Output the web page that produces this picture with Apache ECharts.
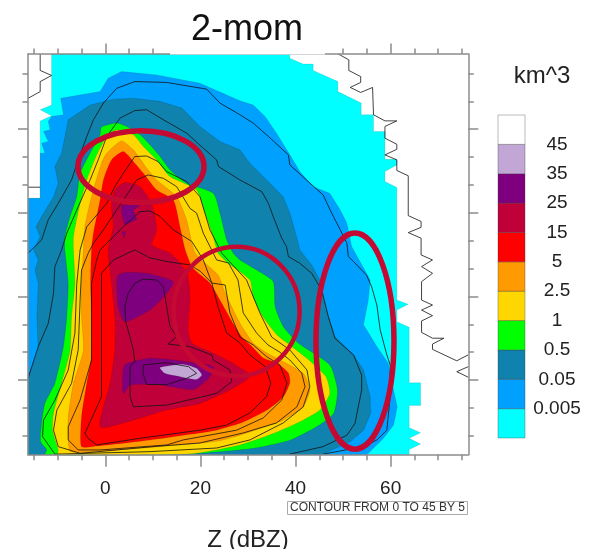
<!DOCTYPE html>
<html>
<head>
<meta charset="utf-8">
<style>
    html, body { margin: 0; padding: 0; background: #fff; }
    #chart { width: 600px; height: 549px; }
</style>
<script src="https://cdn.jsdelivr.net/npm/echarts@6/dist/echarts.min.js"></script>
</head>
<body>
<div id="chart"></div>
<script>
// filled bands, [Z in dBZ, height in km]
const bandCyan = [[-11.3,14.7],[-11.3,12.87],[-13.7,12.7],[-11.3,12.48],[-13.7,12.3],[-13.7,9.52],[-16.26,9.52],[-16.26,0.32],[63.9,0.32],[63.9,0.51],[66.3,0.7],[63.9,0.91],[66.3,1.11],[63.9,1.29],[63.9,2.09],[66.3,2.09],[66.3,2.9],[63.9,2.9],[63.9,4.89],[61.3,5.09],[61.3,5.51],[63.7,5.72],[61.3,5.87],[61.3,9.91],[58.8,10.12],[58.8,10.48],[61.3,10.72],[61.3,10.92],[58.8,10.92],[58.8,11.92],[56.4,11.92],[56.4,12.52],[53.8,12.52],[53.8,12.94],[48.9,13.35],[48.9,13.71],[43.7,14.11],[43.7,14.34],[41.6,14.34],[38.8,14.55],[38.8,14.7]];
const bandBlue = [[-16.26,9.52],[-13.7,9.52],[-13.7,11.14],[-12.7,11.14],[-13.4,11.5],[-12,11.56],[-13,11.92],[-11.6,11.98],[-12,12.28],[-11.3,12.46],[-8.8,12.52],[-9.4,13.11],[-1.1,13.35],[0.6,13.83],[3.4,14.07],[10.8,13.95],[19.9,13.65],[28.3,13.02],[31.1,12.87],[33.6,12.46],[36,11.86],[38.8,11.08],[40.9,10.48],[43.7,9.94],[47.2,9.7],[49.4,9.1],[50.8,8.63],[51.8,7.79],[55.7,6.59],[55.3,5.87],[54.3,4.98],[57.1,4.2],[59.5,3.6],[60.6,2.64],[61.4,2.04],[60.6,1.38],[58.5,0.91],[55,0.32],[-16.26,0.32]];
const bandTeal = [[-16.26,0.32],[-16.26,3.06],[-15.1,3.6],[-14.1,4.08],[-14.4,5.27],[-14.1,6.47],[-14.8,6.95],[-14.1,7.31],[-15.1,7.67],[-13.7,8.15],[-14.6,8.5],[-13.4,8.87],[-10.9,9.58],[-9.9,10.06],[-10.6,10.66],[-9.2,11.14],[-7.8,12.34],[-3.2,12.87],[1.7,13.08],[5.9,13.11],[11.5,13],[16.1,12.76],[19.9,12.1],[24.1,11.56],[28.3,11.26],[30.4,10.78],[32.5,10.42],[34.6,10.06],[37.4,9.58],[38.8,8.99],[40.2,8.15],[40.9,7.67],[43.4,7.13],[45.1,6.59],[46.5,5.51],[48.3,4.56],[52.2,3.9],[54.3,3.36],[55.7,2.4],[55.8,1.8],[54.3,1.2],[51.5,0.79],[45.5,0.32]];
const bandGreen = [[-12.7,0.32],[-12.3,0.49],[-13.6,0.79],[-13.4,1.44],[-12.7,2.16],[-10.6,2.88],[-8.8,4.2],[-8.1,5.27],[-7.8,6.47],[-8.5,7.67],[-8.5,8.15],[-7.4,8.87],[-6,9.58],[-5.3,10.42],[-3.2,11.14],[-1.1,11.8],[-0.8,12.07],[2.4,12.22],[4.8,12.07],[7.3,11.8],[9.7,11.38],[11.5,11.02],[13.6,10.54],[17.1,10.06],[22.7,9.7],[24.1,8.99],[25.5,8.03],[26.9,7.55],[28.3,7.31],[31.8,6.95],[35.3,6.53],[35.7,5.63],[37.4,4.92],[40.6,4.32],[47.2,3.54],[48.8,2.64],[48,1.8],[44.4,1.32],[38.8,0.84],[31.1,0.55],[19.9,0.37],[12.9,0.32]];
const bandGold = [[-9.9,0.32],[-9.9,0.49],[-11.1,1.2],[-10.9,1.8],[-9.2,2.88],[-7.4,4.08],[-7.1,5.27],[-6.4,6.47],[-6.7,7.67],[-6.7,8.15],[-5.3,9.34],[-3.9,10.18],[-1.8,11.08],[0.3,11.74],[2.4,11.98],[5.9,11.8],[8,11.38],[10.8,10.9],[13.6,10.3],[19.2,9.82],[21,8.99],[22.7,8.15],[23.7,7.56],[25.8,7.2],[30.4,6.59],[31.1,5.98],[33.2,5.26],[36.1,4.62],[38.8,4.26],[42.8,3.72],[46.4,3.12],[47.2,2.52],[45.1,1.92],[41.6,1.56],[35.3,1.08],[28.3,0.67],[17.8,0.35]];
const bandOrange = [[-7.3,0.43],[-7.8,0.96],[-7.8,1.68],[-6.7,2.88],[-4.6,4.08],[-5,5.27],[-5,6.47],[-4.6,7.67],[-4.3,8.5],[-2.9,9.58],[-0.8,10.78],[0.3,11.14],[3.4,11.58],[5.9,11.26],[8.7,10.6],[10.8,10.18],[15,9.58],[17.1,8.75],[18.9,7.56],[23.7,6.77],[25.2,6.12],[28.3,5.05],[31.1,4.33],[34,3.97],[41.6,3.24],[43,2.64],[41.6,2.04],[37.4,1.56],[32.5,1.26],[28.3,1.02],[23.4,0.8],[9.4,0.58],[-1.1,0.45]];
const bandRed = [[-5,0.61],[-5,1.68],[-3.9,2.88],[-2.9,3.84],[-2.9,5.27],[-3.1,6.47],[-2.9,7.67],[-2.5,8.27],[-1.1,9.46],[-0.4,10.18],[1.3,10.9],[3.8,11.2],[6.2,10.78],[8,10.42],[10.8,9.82],[14.3,9.46],[15.7,8.5],[16.8,7.67],[18.4,7.02],[22,6.48],[24.1,5.87],[26.2,5.23],[28.7,4.54],[30.9,4.19],[33.2,3.79],[36.1,3.61],[38.5,3.25],[38.8,2.89],[37.4,2.39],[34,1.92],[29,1.49],[23.4,1.2],[16.4,1.02],[9.4,0.85],[-1.8,0.63]];
const bandCrimson = [[-1.1,1.32],[1,2.88],[2,4.08],[2,5.27],[1.3,6.47],[0.6,7.67],[1.7,8.5],[1.3,9.22],[2,9.82],[4.1,10.09],[7.3,9.94],[9.7,9.34],[10.8,8.39],[9.8,7.85],[13.6,7.56],[15.7,7.2],[17.2,6.84],[17.8,5.98],[17.4,4.8],[18.2,4.33],[22,4.02],[26.2,3.66],[30.1,3.24],[30.1,3.06],[26.2,2.64],[19.9,2.16],[12.9,1.92],[5.9,1.56]];
const bandPurpleTop = [[3.4,9.28],[7.3,9.28],[5.9,9.1],[6.6,8.75],[4.1,8.57],[3.4,8.99]];
const bandPurpleSpeck = [[3.6,8.33],[4.3,8.33],[3.9,8.09]];
const bandPurpleMid = [[2.5,6.71],[3.8,6.85],[8.7,6.83],[14.3,6.53],[12.9,6.11],[9.4,5.51],[4.1,5.09],[2.7,5.63]];
const bandPurpleLow = [[4.1,3.54],[9.4,3.78],[17.1,3.66],[22.7,3.48],[21.7,3.06],[18.5,2.66],[11.5,2.82],[5.2,2.82],[3.8,2.5],[3.6,2.88]];
const bandLilac = [[11.5,3.45],[16.4,3.57],[19.2,3.42],[20.3,3.18],[19.2,3.02],[15.7,3.12],[12.5,3.24]];

// black contour lines, 0 to 45 by 5
const lineStairRight = [[49,14.7],[51.2,14.49],[51.2,14.11],[53.7,13.89],[53.7,13.68],[51.5,13.5],[53.7,13.32],[56.2,13.5],[56.4,12.52],[58.8,12.3],[61.3,12.3],[58.8,12.1],[58.8,11.68],[61.3,11.46],[61.3,11.28],[58.8,11.08],[61.3,10.9],[61.3,10.52],[63.7,10.33],[63.7,8.9],[66.4,8.69],[66.4,8.48],[63.7,8.29],[66.4,8.09],[66.4,7.49],[68.8,7.31],[66.5,7.07],[68.8,6.83],[66.5,6.53],[66.5,5.87],[68.8,5.69],[66.5,5.51],[68.8,5.31],[66.5,5.12],[66.5,4.71],[68.8,4.5],[71.2,4.5],[68.8,4.29],[68.8,4.1],[73.9,3.69],[76.3,3.9]];
const lineStairRightLow = [[76.33,3.48],[73.9,3.3],[76.33,3.1]];
const lineStairLeft = [[-13.7,14.7],[-13.7,14.11],[-11.3,13.93],[-13.7,13.71],[-13.7,13.35],[-16.26,13.11]];
const lineStairLeftLow = [[-16.26,9.92],[-13.7,9.92]];
const lineA = [[-16.26,7.55],[-13.4,8.03],[-12,8.75],[-9.9,9.34],[-7.1,10.18],[-5.7,10.9],[-3.9,11.74],[-2.5,12.34],[-0.4,12.94],[2.4,13.47],[6.2,13.71],[12.9,13.68],[21.3,13.44],[24.1,12.94],[28.3,12.52],[31.1,12.22],[34.3,11.74],[38.5,11.08],[38.8,10.72],[42.3,10.18],[45.8,9.64],[47.6,8.99],[49.4,8.39],[50.8,7.91],[51.1,7.43],[52.2,7.25],[54.9,6.77],[56,6.35],[57.1,5.69],[57.8,4.8],[59.2,3.9],[59.9,3.54],[59.9,2.4],[59.2,1.2],[57.1,0.85],[54.3,0.61],[45.8,0.34]];
const lineB = [[-16.26,3.06],[-14.1,4.2],[-12,5.03],[-10.9,6.11],[-10.6,7.07],[-9.2,7.67],[-8.1,8.27],[-5.7,9.22],[-3.2,10.18],[-1.5,10.9],[0.3,11.74],[3.1,12.4],[6.2,12.67],[8.7,12.7],[12.2,12.34],[17.1,11.86],[20.6,11.32],[23.4,10.9],[23.8,10.66],[28.3,10.18],[32.9,9.76],[34.3,9.34],[35.3,8.87],[37.1,8.09],[38.1,7.79],[38.5,7.43],[40.9,7.19],[43.4,6.83],[45.5,6.23],[46.9,5.27],[48.3,4.49],[52.2,3.9],[53.9,3.18],[53.9,2.64],[52.5,1.44],[50.8,1.02],[45.8,0.61],[38.8,0.34]];
const lineC = [[-10.6,0.34],[-13.2,0.97],[-13,1.56],[-10.6,2.28],[-7.8,3.36],[-6.4,4.68],[-6,6.47],[-5.3,7.67],[-3.9,8.5],[0.3,9.34],[2,9.94],[3.8,10.42],[6.2,11.02],[8.7,11.04],[11.1,10.84],[12.9,10.48],[17.1,10.12],[19.9,9.58],[22,8.39],[24.5,7.55],[29.7,6.59],[30.8,6.12],[32.5,5.41],[35,4.54],[38.8,4.08],[42.4,3.36],[43,2.76],[41.6,2.03],[37.4,1.46],[30.4,0.85],[23.4,0.56],[9.4,0.43],[-10.6,0.34]];
const lineD = [[-5.3,0.37],[-9.9,0.61],[-10.9,1.2],[-10.2,1.92],[-7.1,2.88],[-5.7,4.08],[-5.3,5.87],[-5,6.95],[-3.6,7.55],[-2.5,7.91],[-0.4,8.39],[2.4,9.1],[4.5,9.64],[6.6,10.18],[9,10.36],[12.2,10.24],[15,9.94],[17.8,9.16],[19.2,8.99],[20.6,8.27],[23.4,7.31],[25.9,7.2],[27.9,6.59],[29,5.41],[31.8,4.69],[34.2,4.26],[36.7,4],[38.8,3.72],[41.3,3.25],[42,2.76],[40.3,2.04],[36,1.46],[29,1.1],[19.9,0.74],[9.4,0.6],[-5.3,0.37]];
const lineE = [[-5.7,0.49],[-7.8,0.85],[-7.8,1.32],[-5.3,2.28],[-2.9,3.72],[-2.9,6.47],[-1.8,7.31],[-1.1,7.67],[3.8,8.5],[7.3,9.04],[9.4,9.07],[11.5,8.87],[14.3,8.39],[18.2,7.97],[20.6,7.31],[22.4,6.48],[25.2,6.41],[26.2,5.41],[28.3,4.54],[31.1,4.26],[33.9,3.84],[36.7,3.54],[38.2,2.89],[37.1,2.28],[33.2,1.64],[27.6,1.2],[16.4,0.85],[12.9,0.67],[-1,0.49],[-5.7,0.49]];
const lineF = [[6.2,7.67],[1.7,7.31],[-0.8,6.83],[-0.8,4.08],[-0.8,2.4],[-4.3,1.08],[-3.6,0.91],[-1.8,0.67],[7.3,0.91],[19.9,1.2],[25.5,1.38],[30.4,1.82],[33.9,2.4],[34.8,2.89],[33.6,3.48],[30.4,3.9],[28.3,4.33],[25.5,4.69],[23.7,5.63],[22.4,6.48],[20,6.9],[17.8,7.13],[13,7.25],[9.4,7.38],[6.2,7.67]];
const lineG = [[4.1,5.63],[4.3,5.09],[5.9,4.08],[6.2,3.66],[5.2,3.48],[5.2,2.4],[5.9,2.04],[12.9,2.1],[23.4,2.52],[26.6,2.94],[26.2,3.36],[22.7,3.72],[22.4,3.9],[17.8,4.2],[13.2,4.29],[15,4.56],[13.6,4.92],[12.2,6.35],[10.8,6.59],[8,6.62],[6.2,6.47],[4.8,6.11],[4.1,5.63]];
const lineH = [[8,3.54],[12.9,3.62],[17.5,3.48],[19.2,3.24],[17.1,3.06],[12.9,2.84],[8.7,2.84],[7.9,3.24],[8,3.54]];

// red annotation rings: centre Z, centre height, half width in dBZ, half height in km
const ringValues = [[7.5,10.66,13.25,1.29],[27.6,5.46,13.25,2.32],[52.5,4.4,8.2,3.88]];

const xMajorTicks = [0, 20, 40, 60];
const xMinorTicks = [-15, -10, -5, 5, 10, 15, 25, 30, 35, 45, 50, 55, 65, 70, 75];
const yMajorTicks = [3, 6, 9, 12];
const yMinorTicks = [1, 2, 4, 5, 7, 8, 10, 11, 13, 14];

const legendColors = ['#00ffff', '#00a0ff', '#0f82ad', '#00ff00', '#ffd700', '#ff9a00', '#ff0000', '#c00038', '#7f007f', '#c2a6d6', '#ffffff'];
const legendLabels = ['0.005', '0.05', '0.5', '1', '2.5', '5', '15', '25', '35', '45'];

const bands = [
    [bandCyan, legendColors[0], 0],
    [bandBlue, legendColors[1], 0],
    [bandTeal, legendColors[2], 0],
    [bandGreen, legendColors[3], 0.2],
    [bandGold, legendColors[4], 0.2],
    [bandOrange, legendColors[5], 0.2],
    [bandRed, legendColors[6], 0.2],
    [bandCrimson, legendColors[7], 0.2],
    [bandPurpleTop, legendColors[8], 0],
    [bandPurpleSpeck, legendColors[8], 0],
    [bandPurpleMid, legendColors[8], 0.2],
    [bandPurpleLow, legendColors[8], 0.2],
    [bandLilac, legendColors[9], 0.2],
];
const contourLines = [lineStairRight, lineStairRightLow, lineStairLeft, lineStairLeftLow, lineA, lineB, lineC, lineD, lineE, lineF, lineG, lineH];

const FONT = '"Liberation Sans", Arial, sans-serif';
const X_MIN = -16.26, X_MAX = 76.33, Y_MIN = 0.32, Y_MAX = 14.7;
const TICK_COLOR = '#8c8c8c';

function tickAxis(extra, position, values, length, labels, showLine) {
    return Object.assign({
        type: 'value',
        position: position,
        z: 3,
        splitLine: {show: false},
        axisLine: {show: !!showLine, onZero: false, lineStyle: {color: TICK_COLOR, width: 1.5}},
        axisTick: {show: true, customValues: values, length: length, lineStyle: {color: TICK_COLOR, width: 1.5}},
        axisLabel: labels
            ? {show: true, customValues: labels, margin: 25, fontSize: 19, color: '#222', fontFamily: FONT}
            : {show: false},
    }, extra);
}

const xRange = {min: X_MIN, max: X_MAX, gridIndex: 0};
const yRange = {min: Y_MIN, max: Y_MAX, gridIndex: 0};

const option = {
    animation: false,
    backgroundColor: '#fff',
    title: [
        {text: '2-mom', left: 247, top: 12, padding: 0, textAlign: 'center', z: 8, textStyle: {fontFamily: FONT, fontSize: 36, fontWeight: 'normal', color: '#111'}},
        {text: 'km^3', left: 542, top: 64, padding: 0, textAlign: 'center', textStyle: {fontFamily: FONT, fontSize: 24, fontWeight: 'normal', color: '#222'}},
        {text: 'Z (dBZ)', left: 248, top: 528, padding: 0, textAlign: 'center', textStyle: {fontFamily: FONT, fontSize: 24, fontWeight: 'normal', color: '#222'}},
        {
            text: 'CONTOUR FROM 0 TO 45 BY 5', left: 287, top: 501, padding: [1, 3, 1, 3],
            borderColor: '#aaa', borderWidth: 1,
            textStyle: {fontFamily: FONT, fontSize: 12, fontWeight: 'normal', color: '#333'},
        },
    ],
    graphic: [
        // white title box that hides the middle of the top frame in the source slide
        {type: 'rect', shape: {x: 170, y: 0, width: 155, height: 54.6}, style: {fill: '#fff'}, z: 6},
    ],
    grid: [
        {left: 28, top: 54, width: 440.3, height: 400.7},
        {left: 498, top: 115, width: 27, height: 323},
    ],
    xAxis: [
        tickAxis(xRange, 'bottom', xMajorTicks, 12, xMajorTicks, true),
        tickAxis(xRange, 'bottom', xMinorTicks, 5.5),
        tickAxis(xRange, 'top', xMajorTicks, 10.5, null, true),
        tickAxis(xRange, 'top', xMinorTicks, 5.5),
        {type: 'value', gridIndex: 1, min: 0, max: 1, show: false},
    ],
    yAxis: [
        tickAxis(yRange, 'left', yMajorTicks, 10, null, true),
        tickAxis(yRange, 'left', yMinorTicks, 5.5),
        tickAxis(yRange, 'right', yMajorTicks, 10, null, true),
        tickAxis(yRange, 'right', yMinorTicks, 5.5),
        {
            type: 'value', gridIndex: 1, min: 0, max: legendColors.length, position: 'right',
            splitLine: {show: false}, axisLine: {show: false}, axisTick: {show: false},
            axisLabel: {
                show: true,
                customValues: legendLabels.map((_, i) => i + 1),
                formatter: value => legendLabels[value - 1],
                align: 'center', margin: 32, fontSize: 19, color: '#222', fontFamily: FONT,
                padding: [3, 0, 0, 0],
            },
        },
    ],
    series: [
        {
            type: 'custom',
            name: 'bands',
            data: bands.map((_, i) => [i]),
            encode: {x: 0, y: 0},
            silent: true,
            z: 2,
            renderItem: (params, api) => {
                const [points, color, smooth] = bands[params.dataIndex];
                return {
                    type: 'polygon',
                    shape: {points: points.map(point => api.coord(point)), smooth: smooth},
                    style: {fill: color, stroke: 'rgba(0,0,0,0.18)', lineWidth: 0.6},
                };
            },
        },
        {
            type: 'custom',
            name: 'contours',
            data: contourLines.map((_, i) => [i]),
            encode: {x: 0, y: 0},
            silent: true,
            z: 2.5,
            renderItem: (params, api) => ({
                type: 'polyline',
                shape: {points: contourLines[params.dataIndex].map(point => api.coord(point))},
                style: {fill: 'none', stroke: 'rgba(20,20,20,0.8)', lineWidth: 1},
            }),
        },
        {
            type: 'custom',
            name: 'rings',
            data: ringValues,
            encode: {x: 0, y: 1},
            silent: true,
            clip: false,
            z: 2.8,
            renderItem: (params, api) => {
                const center = api.coord([api.value(0), api.value(1)]);
                const size = api.size([api.value(2), api.value(3)]);
                return {
                    type: 'ellipse',
                    shape: {cx: center[0], cy: center[1], rx: size[0], ry: size[1]},
                    style: {fill: 'none', stroke: '#c40a33', lineWidth: params.dataIndex === 1 ? 4.5 : 5.5},
                };
            },
        },
        {
            type: 'custom',
            name: 'colorbar',
            xAxisIndex: 4,
            yAxisIndex: 4,
            data: legendColors.map((_, i) => [i]),
            encode: {y: 0},
            silent: true,
            renderItem: (params, api) => {
                const low = api.coord([0, params.dataIndex]);
                const high = api.coord([1, params.dataIndex + 1]);
                return {
                    type: 'rect',
                    shape: {x: low[0], y: high[1], width: high[0] - low[0], height: low[1] - high[1]},
                    style: {fill: legendColors[params.dataIndex], stroke: 'rgba(60,60,60,0.35)', lineWidth: 1},
                };
            },
        },
    ],
};

const chart = echarts.init(document.getElementById('chart'));
chart.setOption(option);
</script>
</body>
</html>
